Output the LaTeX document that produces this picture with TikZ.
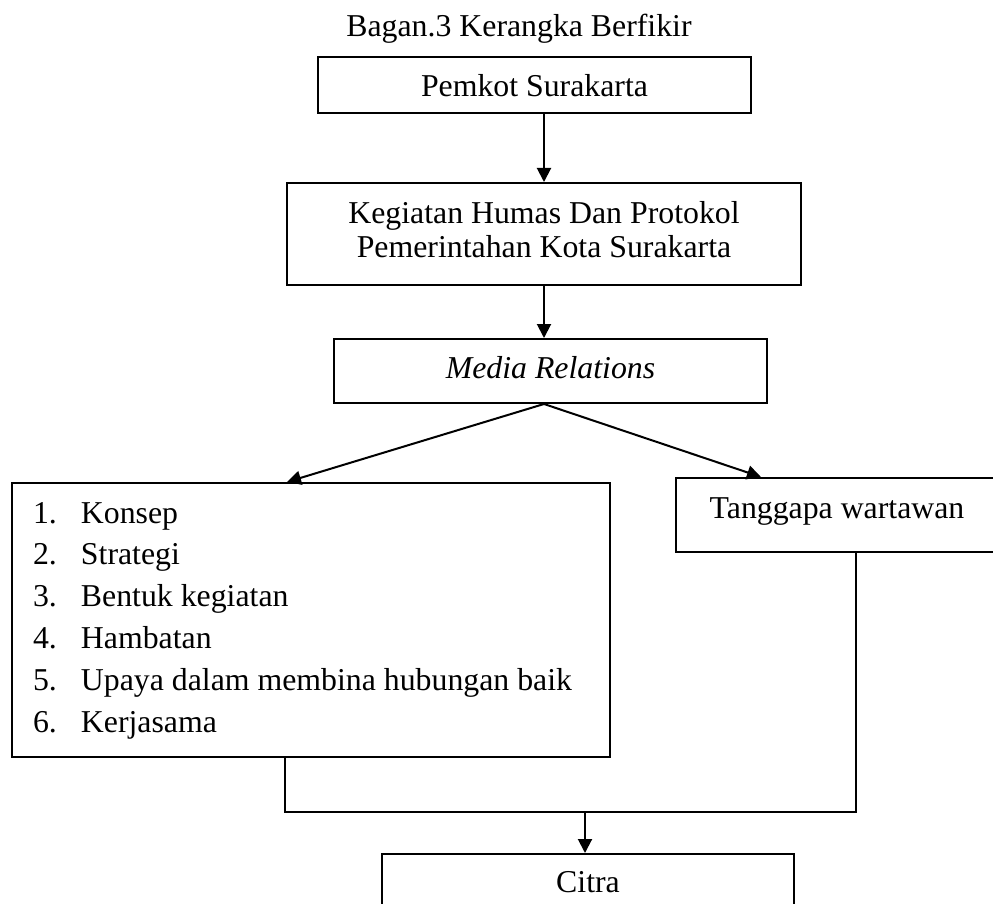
\documentclass[tikz,border=0pt]{standalone}
\usepackage{fontspec}
\setmainfont{Liberation Serif}
\usetikzlibrary{arrows.meta}
\begin{document}
\begin{tikzpicture}[x=1pt,y=-1pt,
  font=\fontsize{31.8}{35}\selectfont,
  box/.style={draw,line width=2pt,inner sep=0pt,rectangle},
  arr/.style={-{Triangle[length=14pt,width=14pt]},line width=2pt},
  conn/.style={line width=2pt}]
\useasboundingbox (0,0) rectangle (993,904);
\clip (0,0) rectangle (993,904);
\node[anchor=base] (title) at (519,37) {Bagan.3 Kerangka Berfikir};
\node[box,minimum width=433pt,minimum height=56pt,text height=24pt,text depth=0pt] (pemkot) at (534.5,85) {Pemkot Surakarta};
\node[box,minimum width=514pt,minimum height=102pt,text height=20pt,text depth=42pt] (humas) at (544,234)
  {\begin{tabular}[t]{@{}c@{}}Kegiatan Humas Dan Protokol\\Pemerintahan Kota Surakarta\end{tabular}};
\node[box,minimum width=433pt,minimum height=64pt,text height=14pt,text depth=0pt] (media) at (550.5,371) {\textit{Media Relations}};
\node[box,minimum width=598pt,minimum height=274pt,text height=10pt,text depth=204pt] (list) at (311,620)
  {\fontsize{31.8}{41.9}\selectfont\begin{tabular}[t]{@{}p{48pt}@{}p{508pt}@{}}
   1. & Konsep\\
   2. & Strategi\\
   3. & Bentuk kegiatan\\
   4. & Hambatan\\
   5. & Upaya dalam membina hubungan baik\\
   6. & Kerjasama
  \end{tabular}};
\node[box,minimum width=322pt,minimum height=74pt,text height=20pt,text depth=14pt] (tang) at (837,515) {Tanggapa wartawan};
\node[box,minimum width=412pt,minimum height=76pt,text height=10pt,text depth=10pt] (citra) at (588,892) {Citra};
\draw[arr] (pemkot.south -| humas.north) -- (humas.north);
\draw[arr] (humas.south) -- (humas.south |- media.north);
\coordinate (fork) at (humas.south |- media.south);
\draw[arr] (fork) -- ([xshift=276pt]list.north west);
\draw[arr] (fork) -- ([xshift=86pt]tang.north west);
\coordinate (lb) at ([xshift=274pt]list.south west);
\coordinate (rb) at ([xshift=181pt]tang.south west);
\coordinate (join) at (585,812);
\draw[conn] (lb) |- (join) -| (rb);
\draw[arr] (join) -- (join |- citra.north);
\end{tikzpicture}
\end{document}
